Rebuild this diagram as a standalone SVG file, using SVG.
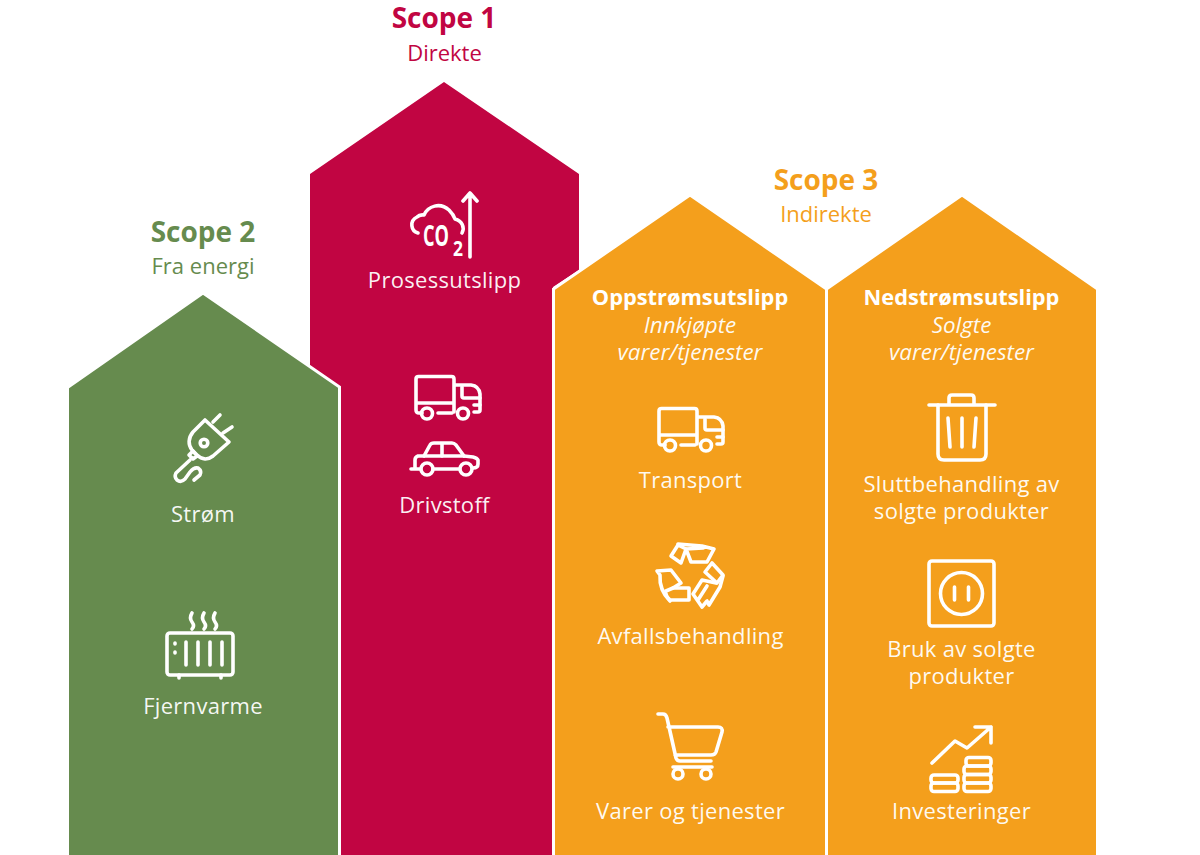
<svg xmlns="http://www.w3.org/2000/svg" width="1200" height="855" viewBox="0 0 1200 855">
<style>
text{font-family:"Open Sans","Noto Sans","Liberation Sans",sans-serif;text-anchor:middle}
.t{font-size:28px;font-weight:700}
.s{font-size:22px}
.l{font-size:22px;fill:#fff;fill-opacity:.94;letter-spacing:.3px}
.h{font-size:21.800px;font-weight:700;fill:#fff}
.i{font-size:22.400px;font-style:italic;fill:#fff;fill-opacity:.94}
.c{font-weight:700;fill:#fff}
.ic{fill:none;stroke:#fff;stroke-width:3.600;stroke-linecap:round;stroke-linejoin:round}
.g{fill:#668b4e}.r{fill:#c10542}.o{fill:#f49f1c}
.b{stroke:#fff;stroke-width:3}
</style>
<defs>
<g id="truck" class="ic">
<path d="M2 33V4Q2 1.500 4.500 1.500H37.500Q40 1.500 40 4V37M2 28H40M8 38H5Q2 38 2 35V33"/>
<path d="M24 38H38"/><circle cx="13" cy="38.500" r="5.500"/><circle cx="49" cy="38.500" r="5.500"/>
<path d="M41 10H57Q65 11 66 19V35Q66 37 64 37H60"/><path d="M48 12V21Q48 23 50 23H66"/><path d="M60 30H66"/>
</g>
</defs>
<g id="scope1">
<polygon class="r" points="444,82 579,174 579,270 553,287 553,855 339,855 339,388 310,368 310,174"/>
<text class="t" x="444" y="28" fill="#c10542">Scope 1</text>
<text class="s" x="444.500" y="60.500" fill="#c10542">Direkte</text>
<g class="ic">
<path d="M418 233C411 231 409 221 417 217C420 214 423 215 424 215C428 206 440 202 449 210C452 213 454 216 455 219C462 221 465 227 462 233"/>
<path d="M470 257V194M463 201L470 193L477 201"/>
</g>
<text class="c" x="436" y="246" style="font-size:28px" textLength="26" lengthAdjust="spacingAndGlyphs">CO</text>
<text class="c" x="458" y="256" style="font-size:22px" textLength="10" lengthAdjust="spacingAndGlyphs">2</text>
<text class="l" x="444.500" y="288">Prosessutslipp</text>
<use href="#truck" x="414" y="375"/>
<g class="ic">
<path d="M411 469H420M433 469H459M473 468Q478 468 478 464V460Q477 458 473 457L464 456H418Q415 457 415 460V468"/>
<path d="M424 456L430 445Q431 443 434 443H452Q454 443 456 445L464 456M442 444V456"/>
<circle cx="427" cy="469" r="6"/><circle cx="466" cy="469" r="6"/>
</g>
<text class="l" x="444.500" y="513">Drivstoff</text>
</g>
<g id="scope2">
<polygon class="g b" points="203,293 339.500,387 339.500,857 67.500,857 67.500,387.500"/>
<text class="t" x="203" y="241.500" fill="#668b4e">Scope 2</text>
<text class="s" x="203" y="273.500" fill="#668b4e">Fra energi</text>
<g class="ic">
<path d="M205 420L193 432C188 438 188 445 192 450L197 455C202 460 208 460 213 456L229 442Z"/>
<circle cx="204" cy="443" r="3.800"/>
<path d="M213 422L220 415M223 433L232 427"/>
<path d="M193 451L189 455L193 459L197 456Z"/>
<path d="M190 460L176 473Q174 477 177 480Q181 483 185 479L190 472Q194 467 198 468Q202 471 200 475L194 480"/>
<rect x="167" y="633" width="66" height="42" rx="3"/>
<path d="M186 642V665M198 642V665M210 642V665M222 642V665M175 643V644M175 652V653M179 675V678M221 675V678"/>
<path d="M192 613Q189 618 192 622Q195 626 192 629M204 613Q201 618 204 622Q207 626 204 629M215 613Q212 618 215 622Q218 626 215 629"/>
</g>
<text class="l" x="203" y="522">Strøm</text>
<text class="l" x="203" y="714">Fjernvarme</text>
</g>
<g id="scope3-up">
<polygon class="o b" points="690,195 826.500,289 826.500,857 553.500,857 553.500,289"/>
<text class="t" x="826" y="189.500" fill="#f49f1c">Scope 3</text>
<text class="s" x="826" y="221.500" fill="#f49f1c">Indirekte</text>
<text class="h" x="690" y="305">Oppstrømsutslipp</text>
<text class="i" x="690" y="332.500">Innkjøpte</text>
<text class="i" x="690" y="359.500">varer/tjenester</text>
<use href="#truck" x="657" y="407"/>
<text class="l" x="690.500" y="488">Transport</text>
<g class="ic">
<path d="M671 556L678 545L686 549L681 563Z"/>
<path d="M678 544L702 546L714 549L707 562H691L686 549L703 548"/>
<path d="M705 572L712 563L723 575L717 583Z"/>
<path d="M723 576L720 587L709 605L707 601L702 607L693 594L702 580L716 583M698 600L707 586"/>
<path d="M673 588H689V600H670Q665 596 666 591L673 588Z"/>
<path d="M670 601Q659 590 660 575L657 571L671 570L681 583L673 588"/>
</g>
<text class="l" x="690.500" y="644">Avfallsbehandling</text>
<g class="ic">
<path d="M658 714H663Q666 714 667 718L676 758Q677 761 680 761H711M668 727H718Q723 727 722 732L716 752Q715 755 711 755H675"/>
<path d="M673 767H712"/>
<circle cx="678" cy="774" r="5"/><circle cx="706" cy="774" r="5"/>
</g>
<text class="l" x="690.500" y="819">Varer og tjenester</text>
</g>
<g id="scope3-down">
<polygon class="o b" points="962,195 1097.500,289 1097.500,857 826.500,857 826.500,289"/>
<text class="h" x="961.500" y="305">Nedstrømsutslipp</text>
<text class="i" x="961.500" y="332.500">Solgte</text>
<text class="i" x="961.500" y="359.500">varer/tjenester</text>
<g class="ic">
<path d="M929 405H995M949 405V398Q949 395 952 395H971Q974 395 974 398V405"/>
<path d="M938 405V454Q938 460 944 460H980Q986 460 986 454V405"/>
<path d="M948 418L950 447M962 418V447M976 418L974 447"/>
</g>
<text class="l" x="961.500" y="492">Sluttbehandling av</text>
<text class="l" x="961.500" y="519">solgte produkter</text>
<g class="ic">
<rect x="929" y="561" width="65" height="65" rx="3"/>
<circle cx="961.500" cy="593.500" r="21"/>
<path d="M954.500 587V600M968.500 587V600"/>
</g>
<text class="l" x="961.500" y="657">Bruk av solgte</text>
<text class="l" x="961.500" y="684">produkter</text>
<g class="ic">
<path d="M932 763L955 741L967 748L991 727M975 727H991V743"/>
<rect x="931" y="775" width="27" height="8" rx="3"/><rect x="931" y="783" width="27" height="8.500" rx="3"/>
<rect x="966" y="757.500" width="25" height="8.500" rx="3"/><rect x="964" y="766" width="27" height="8.500" rx="3"/><rect x="964" y="774.500" width="27" height="8.500" rx="3"/><rect x="964" y="783" width="27" height="8.500" rx="3"/>
</g>
<text class="l" x="961.500" y="819">Investeringer</text>
</g>
</svg>
